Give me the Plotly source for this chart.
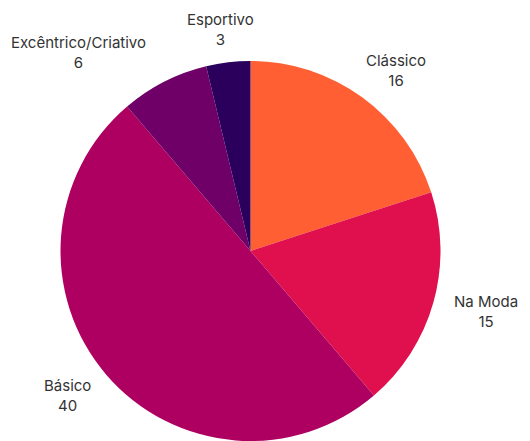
import math
import plotly.graph_objects as go

categories = ["Clássico", "Na Moda", "Básico", "Excêntrico/Criativo", "Esportivo"]
values = [16, 15, 40, 6, 3]
colors = ["#FF5F33", "#E0104F", "#AD0060", "#6E0068", "#2A005C"]

W, H = 530, 441
R = 190.0
dom_y = [0.0, 2 * R / H]
cx = 250.5
cy = H - R  # pie centre from top, px
dom_x = [(cx - R) / W, (cx + R) / W]

fig = go.Figure(go.Pie(
    labels=categories,
    values=values,
    sort=False,
    direction="clockwise",
    rotation=0,
    marker=dict(colors=colors, line=dict(width=0)),
    textinfo="none",
    hoverinfo="label+value+percent",
    domain=dict(x=dom_x, y=dom_y),
    showlegend=False,
))

FS = 15
HH = 13
PADX = 8
offset = 20
LABEL_GAP = 38


def text_w(s):
    return sum(10.5 if c.isupper() else (4 if c == " " else 7.1) for c in s)


total = sum(values)
cum = 0
boxes = []
for lab, v in zip(categories, values):
    mid = (cum + v / 2) / total * 2 * math.pi
    cum += v
    dx, dy = math.sin(mid), -math.cos(mid)
    hw = max(text_w(lab), text_w(str(v))) / 2
    ax = cx + (R + offset) * dx
    ay = cy + (R + offset) * dy
    x = ax + (hw + PADX) * dx
    y = ay + HH * dy
    boxes.append({"lab": lab, "v": v, "x": x, "y": y, "hw": hw, "dx": dx})

# resolve overlaps by pushing a label sideways, away from the pie
for a in boxes:
    for b in boxes:
        if b is a:
            continue
        if abs(a["x"] - b["x"]) < a["hw"] + b["hw"] and abs(a["y"] - b["y"]) < 2 * 20:
            if a["dx"] < 0 and a["x"] < b["x"]:
                a["x"] = b["x"] - (b["hw"] + LABEL_GAP + a["hw"])
            elif a["dx"] > 0 and a["x"] > b["x"]:
                a["x"] = b["x"] + (b["hw"] + LABEL_GAP + a["hw"])

for bx in boxes:
    fig.add_annotation(
        x=bx["x"] / W, y=1 - bx["y"] / H, xref="paper", yref="paper",
        text=f"{bx['lab']}<br>{bx['v']}", showarrow=False, align="center",
        xanchor="center", yanchor="middle",
        font=dict(family="Inter", size=FS, color="#333333"),
    )

fig.update_layout(
    width=W, height=H,
    margin=dict(l=0, r=0, t=0, b=0),
    paper_bgcolor="white", plot_bgcolor="white",
)

fig.write_html("out.html")
